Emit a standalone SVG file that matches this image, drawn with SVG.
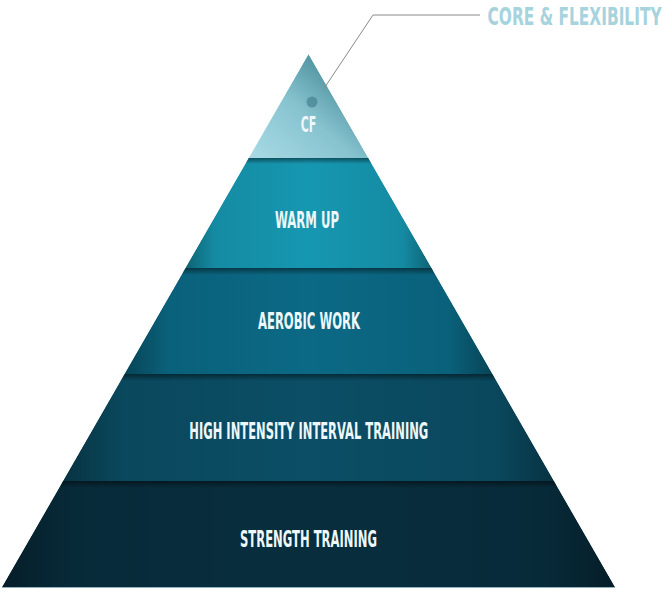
<svg xmlns="http://www.w3.org/2000/svg" width="669" height="592" viewBox="0 0 669 592">
<style>
.lbl{font-family:"Liberation Sans Narrow","DejaVu Sans Condensed","Liberation Sans",sans-serif;font-weight:bold;fill:#eef7f9}
.side{fill:url(#side)}
.shade{fill:url(#shade)}
</style>
<defs>
<linearGradient id="cfg" x1="0" y1="1" x2="1" y2="0">
<stop offset="0" stop-color="#a9dbe5"/>
<stop offset="0.45" stop-color="#86c3cf"/>
<stop offset="0.8" stop-color="#4b8d9b"/>
<stop offset="1" stop-color="#2f6a78"/>
</linearGradient>
<linearGradient id="side" x1="0" y1="0" x2="1" y2="0">
<stop offset="0" stop-color="#000" stop-opacity="0.35"/>
<stop offset="0.12" stop-color="#000" stop-opacity="0.08"/>
<stop offset="0.5" stop-color="#000" stop-opacity="0"/>
<stop offset="0.88" stop-color="#000" stop-opacity="0.08"/>
<stop offset="1" stop-color="#000" stop-opacity="0.35"/>
</linearGradient>
<linearGradient id="shade" x1="0" y1="0" x2="0" y2="1">
<stop offset="0" stop-color="#000" stop-opacity="0.45"/>
<stop offset="1" stop-color="#000" stop-opacity="0"/>
</linearGradient>
<clipPath id="tri"><polygon points="308.5,54 615,587 2,587"/></clipPath>
</defs>
<rect width="669" height="592" fill="#fff"/>
<g clip-path="url(#tri)">
<g id="cf">
<polygon points="308.5,54 368.5,158 248.5,158" fill="url(#cfg)"/>
<circle cx="312" cy="102" r="5.5" fill="#3d7a88" opacity="0.6"/>
<text class="lbl" x="300.7" y="132" font-size="22" textLength="15.5" lengthAdjust="spacingAndGlyphs">CF</text>
</g>
<g id="warmup">
<polygon points="248.5,158 368.5,158 431.7,268 185.3,268" fill="#1697b1"/>
<polygon class="side" points="248.5,158 368.5,158 431.7,268 185.3,268"/>
<rect class="shade" x="0" y="158" width="669" height="6"/>
<text class="lbl" x="275" y="228.3" font-size="23.5" textLength="64" lengthAdjust="spacingAndGlyphs">WARM UP</text>
</g>
<g id="aerobic">
<polygon points="185.3,268 431.7,268 492.6,374 124.4,374" fill="#0b6985"/>
<polygon class="side" points="185.3,268 431.7,268 492.6,374 124.4,374"/>
<rect class="shade" x="0" y="268" width="669" height="7"/>
<text class="lbl" x="258" y="328.5" font-size="23.5" textLength="102" lengthAdjust="spacingAndGlyphs">AEROBIC WORK</text>
</g>
<g id="hiit">
<polygon points="124.4,374 492.6,374 554,481 63,481" fill="#0b4e65"/>
<polygon class="side" points="124.4,374 492.6,374 554,481 63,481"/>
<rect class="shade" x="0" y="374" width="669" height="7"/>
<text class="lbl" x="189.3" y="438.5" font-size="23" textLength="239" lengthAdjust="spacingAndGlyphs">HIGH INTENSITY INTERVAL TRAINING</text>
</g>
<g id="strength">
<polygon points="63,481 554,481 615,587 2,587" fill="#082e3e"/>
<polygon class="side" points="63,481 554,481 615,587 2,587"/>
<rect class="shade" x="0" y="481" width="669" height="7"/>
<text class="lbl" x="240" y="547" font-size="22.5" textLength="137" lengthAdjust="spacingAndGlyphs">STRENGTH TRAINING</text>
</g>
</g>
<line x1="2" y1="587.5" x2="615" y2="587.5" stroke="#8fb3bd" stroke-width="1"/>
<g id="connectors">
<polyline points="480,15 373,15 323,90" fill="none" stroke="#8a8a8a" stroke-width="1"/>
</g>
<g id="core-label">
<text transform="translate(487.5,25.3) scale(0.64,1)" x="0" y="0" font-family="Liberation Sans Narrow, DejaVu Sans Condensed, Liberation Sans, sans-serif" font-weight="bold" font-size="24" fill="#a6d3dd" textLength="272" lengthAdjust="spacingAndGlyphs">CORE &amp; FLEXIBILITY</text>
</g>
</svg>
